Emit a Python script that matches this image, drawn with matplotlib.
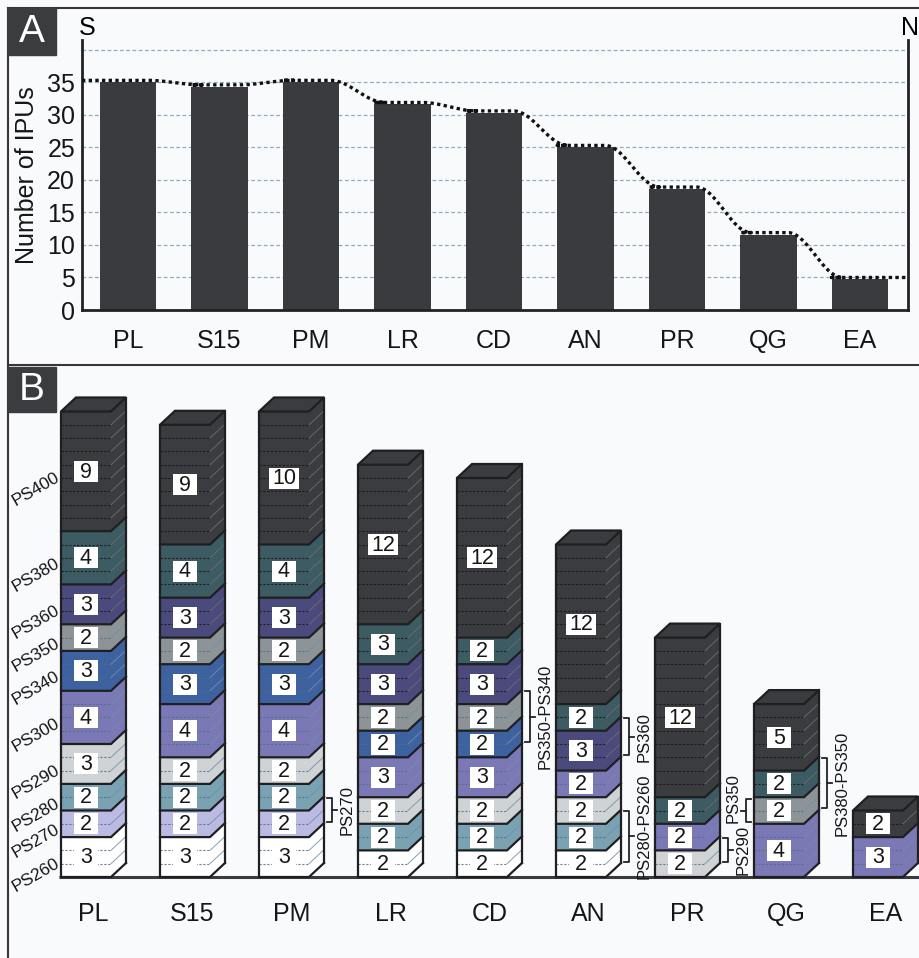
import matplotlib
matplotlib.use('Agg')
import matplotlib.pyplot as plt
import numpy as np
from matplotlib.patches import Polygon, Rectangle
from matplotlib.lines import Line2D
from matplotlib.colors import to_rgb

plt.rcParams['font.family'] = ['Liberation Sans', 'DejaVu Sans']

# ---------------- data ----------------
sites = ['PL', 'S15', 'PM', 'LR', 'CD', 'AN', 'PR', 'QG', 'EA']
ipu_counts = [35, 34.3, 35, 31.6, 30.3, 25, 18.6, 11.6, 4.7]
y_ticks = [0, 5, 10, 15, 20, 25, 30, 35, 40]
y_tick_labels = ['0', '5', '10', '15', '20', '25', '30', '35', '']

layer_colors = {
    'PS260': '#ffffff', 'PS270': '#bbbae3', 'PS280': '#7ba2b2',
    'PS290': '#cfd3d5', 'PS300': '#7b78b6', 'PS340': '#3e61a0',
    'PS350': '#8d9497', 'PS360': '#4b4a7c', 'PS380': '#3d5b62',
    'PS400': '#3b3c40',
}

# stacks, bottom to top
pl_types = ['PS260', 'PS270', 'PS280', 'PS290', 'PS300', 'PS340', 'PS350', 'PS360', 'PS380', 'PS400']
pl_counts = [3, 2, 2, 3, 4, 3, 2, 3, 4, 9]
s15_types = pl_types
s15_counts = [3, 2, 2, 2, 4, 3, 2, 3, 4, 9]
pm_types = pl_types
pm_counts = [3, 2, 2, 2, 4, 3, 2, 3, 4, 10]
lr_types = ['PS260', 'PS280', 'PS290', 'PS300', 'PS340', 'PS350', 'PS360', 'PS380', 'PS400']
lr_counts = [2, 2, 2, 3, 2, 2, 3, 3, 12]
cd_types = lr_types
cd_counts = [2, 2, 2, 3, 2, 2, 3, 2, 12]
an_types = ['PS260', 'PS280', 'PS290', 'PS300', 'PS360', 'PS380', 'PS400']
an_counts = [2, 2, 2, 2, 3, 2, 12]
pr_types = ['PS290', 'PS300', 'PS380', 'PS400']
pr_counts = [2, 2, 2, 12]
qg_types = ['PS300', 'PS350', 'PS380', 'PS400']
qg_counts = [4, 2, 2, 5]
ea_types = ['PS300', 'PS400']
ea_counts = [3, 2]

stack_types = [pl_types, s15_types, pm_types, lr_types, cd_types, an_types, pr_types, qg_types, ea_types]
stack_counts = [pl_counts, s15_counts, pm_counts, lr_counts, cd_counts, an_counts, pr_counts, qg_counts, ea_counts]

# brackets: column, first layer, last layer, side, label
bracket_cols = [2, 4, 5, 5, 6, 7, 7]
bracket_layers = [(1, 1), (4, 5), (4, 4), (0, 1), (0, 0), (1, 1), (1, 2)]
bracket_sides = ['right', 'right', 'right', 'right', 'right', 'left', 'right']
bracket_labels = ['PS270', 'PS350-PS340', 'PS360', 'PS280-PS260', 'PS290', 'PS350', 'PS380-PS350']
bracket_text_shift = [0, 0, 0, 0.8, 0, 0.9, 0]

# ---------------- figure ----------------
W, H = 920, 958
BG = '#f9fafc'
fig = plt.figure(figsize=(W / 100, H / 100), dpi=100, facecolor=BG)
DARK = '#222226'
TXT = '#161616'

def fx(px):
    return px / W

def fy(py):
    return 1 - py / H

# frame lines
for (x0, y0, x1, y1) in [(8, 7.5, 920, 7.5), (8, 7.5, 8, 958), (8, 365, 920, 365)]:
    fig.add_artist(Line2D([fx(x0), fx(x1)], [fy(y0), fy(y1)], color='#3a3434', lw=1.5,
                          transform=fig.transFigure))

# panel letters
for lab, (x0, y0, x1, y1) in [('A', (8, 8, 56, 55)), ('B', (8, 367, 56, 412))]:
    fig.add_artist(Rectangle((fx(x0), fy(y1)), fx(x1) - fx(x0), fy(y0) - fy(y1),
                             transform=fig.transFigure, color='#3b3c40', zorder=5))
    fig.text(fx((x0 + x1) / 2), fy((y0 + y1) / 2), lab, color='white', fontsize=28,
             ha='center', va='center', zorder=6)

# ---------------- panel A ----------------
axA = fig.add_axes([fx(82), fy(310), fx(908) - fx(82), fy(40) - fy(310)])
axA.set_facecolor('none')
xpos = np.arange(len(sites))
bar_w = 0.62
axA.bar(xpos, ipu_counts, width=bar_w, color='#3a3b3e', zorder=2)
axA.set_xlim(-0.503, 8.525)
axA.set_ylim(0, 41.5)
axA.set_yticks(y_ticks)
axA.set_yticklabels(y_tick_labels)
axA.set_xticks(xpos)
axA.set_xticklabels(sites)
axA.tick_params(axis='y', length=0, pad=5, labelsize=18, colors=TXT)
axA.tick_params(axis='x', length=0, pad=14, labelsize=18, colors=TXT)
axA.yaxis.grid(True, linestyle=(0, (3, 2)), color='#8aaec2', lw=0.9)
axA.set_axisbelow(True)
axA.spines['top'].set_visible(False)
for s in ['left', 'right', 'bottom']:
    axA.spines[s].set_linewidth(2)
    axA.spines[s].set_color(DARK)
axA.set_ylabel('Number of IPUs', fontsize=18, labelpad=6, color=TXT)

# smooth dotted trend following bar tops
def cos_seg(xa, ya, xb, yb, n=40):
    t = np.linspace(0, 1, n)
    return xa + (xb - xa) * t, ya + (yb - ya) * (1 - np.cos(np.pi * t)) / 2

lx, ly = [axA.get_xlim()[0]], [ipu_counts[0]]
for i, v in enumerate(ipu_counts):
    lx += [i - bar_w / 2, i + bar_w / 2 - 0.1]
    ly += [v, v]
    if i < len(ipu_counts) - 1:
        sx, sy = cos_seg(i + bar_w / 2 - 0.1, v, i + 1 - bar_w / 2 + 0.12, ipu_counts[i + 1])
        lx += list(sx)
        ly += list(sy)
lx.append(axA.get_xlim()[1])
ly.append(ipu_counts[-1])
axA.plot(lx, np.array(ly) + 0.3, ls=(0, (1, 1)), lw=2.4, color='#111111', zorder=3,
         clip_on=False)

axA.annotate('S', xy=(0, 1), xycoords='axes fraction', xytext=(3.6, 8.6),
             textcoords='offset points', ha='center', va='center', fontsize=18)
axA.annotate('N', xy=(1, 1), xycoords='axes fraction', xytext=(1.5, 8.6),
             textcoords='offset points', ha='center', va='center', fontsize=18)

# ---------------- panel B ----------------
axB = fig.add_axes([0, 0, 1, fy(366)])
axB.axis('off')
slot_px, unit_px, x0_px, base_px = 99.0, 13.3, 86.0, 877.0
axB.set_xlim((0 - x0_px) / slot_px, (W - x0_px) / slot_px)
axB.set_ylim((base_px - H) / unit_px, (base_px - 366) / unit_px)

fw = 50 / slot_px
ddx = 15 / slot_px
ddy = 14 / unit_px
EDGE = '#1f1f22'
ELW = 1.6

def is_dark(c):
    r, g, b = to_rgb(c)
    return 0.299 * r + 0.587 * g + 0.114 * b < 0.35

# baseline
axB.plot([-fw / 2 - 0.02, axB.get_xlim()[1]], [0, 0], color='#3a3a3e', lw=2.2, zorder=1,
         solid_capstyle='butt')

col_bounds = []
for i, (types, counts) in enumerate(zip(stack_types, stack_counts)):
    xa, xb = i - fw / 2, i + fw / 2
    bounds = np.concatenate([[0], np.cumsum(counts)])
    col_bounds.append(bounds)
    top = bounds[-1]
    for k, (t, c) in enumerate(zip(types, counts)):
        y0, y1 = bounds[k], bounds[k + 1]
        col = layer_colors[t]
        axB.add_patch(Rectangle((xa, y0), fw, c, facecolor=col, edgecolor='none', zorder=2))
        axB.add_patch(Polygon([(xb, y0), (xb + ddx, y0 + ddy), (xb + ddx, y1 + ddy), (xb, y1)],
                              closed=True, facecolor=col, edgecolor='none', zorder=2))
        if is_dark(col):
            fcol, scol, fa = '#18181a', '#6a6c72', 0.9
        else:
            fcol, scol, fa = '#4f6f86', '#6f90a8', 0.85
        for u in range(1, c):
            yy = y0 + u
            axB.plot([xa, xb], [yy, yy], ls=(0, (2, 1.5)), lw=0.8, color=fcol,
                     alpha=fa, zorder=3)
            axB.plot([xb, xb + ddx], [yy, yy + ddy], lw=0.7, color=scol,
                     alpha=fa, zorder=3)
        # layer boundary (bottom edge of layer)
        axB.plot([xa, xb, xb + ddx], [y0, y0, y0 + ddy], color=EDGE, lw=ELW, zorder=4,
                 solid_joinstyle='miter')
    # top face
    axB.add_patch(Polygon([(xa, top), (xb, top), (xb + ddx, top + ddy), (xa + ddx, top + ddy)],
                          closed=True, facecolor=layer_colors[types[-1]], edgecolor=EDGE,
                          lw=ELW, zorder=4, joinstyle='miter'))
    # outer edges
    axB.plot([xa, xa], [0, top], color=EDGE, lw=ELW, zorder=4)
    axB.plot([xb + ddx, xb + ddx], [ddy, top + ddy], color=EDGE, lw=ELW, zorder=4)
    # number boxes
    for k, c in enumerate(counts):
        yc = (bounds[k] + bounds[k + 1]) / 2
        bw = (24 if c < 10 else 30) / slot_px
        bh = 21 / unit_px
        axB.add_patch(Rectangle((i - bw / 2, yc - bh / 2), bw, bh, facecolor='white',
                                edgecolor='none', zorder=5))
        axB.text(i, yc - 0.05, str(c), ha='center', va='center', fontsize=15.5, color=TXT,
                 zorder=6)
    # column label
    axB.text(i + ddx / 2, -2.75, sites[i], ha='center', va='center', fontsize=18,
             color=TXT)

# layer names left of first column
b0 = col_bounds[0]
for k, t in enumerate(stack_types[0]):
    yc = (b0[k] + b0[k + 1]) / 2 - 0.35
    axB.text(-fw / 2 - 0.03, yc, t, rotation=30, rotation_mode='anchor', ha='right',
             va='center', fontsize=12.5, color=TXT)

# brackets
for col, (la, lb), side, lab, sh in zip(bracket_cols, bracket_layers, bracket_sides,
                                        bracket_labels, bracket_text_shift):
    b = col_bounds[col]
    ya, yb = b[la] + 0.1, b[lb + 1] - 0.1
    if side == 'right':
        ya, yb = ya + ddy, yb + ddy
        xl = col + fw / 2 + ddx + 0.08
        inward, outward, xt = xl - 0.05, xl + 0.05, xl + 0.15
    else:
        xl = col - fw / 2 - 0.08
        inward, outward, xt = xl + 0.05, xl - 0.05, xl - 0.13
    ym = (ya + yb) / 2
    axB.plot([inward, xl, xl, inward], [ya, ya, yb, yb], color=DARK, lw=1.3, zorder=4)
    axB.plot([xl, outward], [ym, ym], color=DARK, lw=1.3, zorder=4)
    axB.text(xt, ym + sh, lab, rotation=90, ha='center', va='center', fontsize=12,
             color=TXT)

fig.savefig('out.png', dpi=100, facecolor=BG)
